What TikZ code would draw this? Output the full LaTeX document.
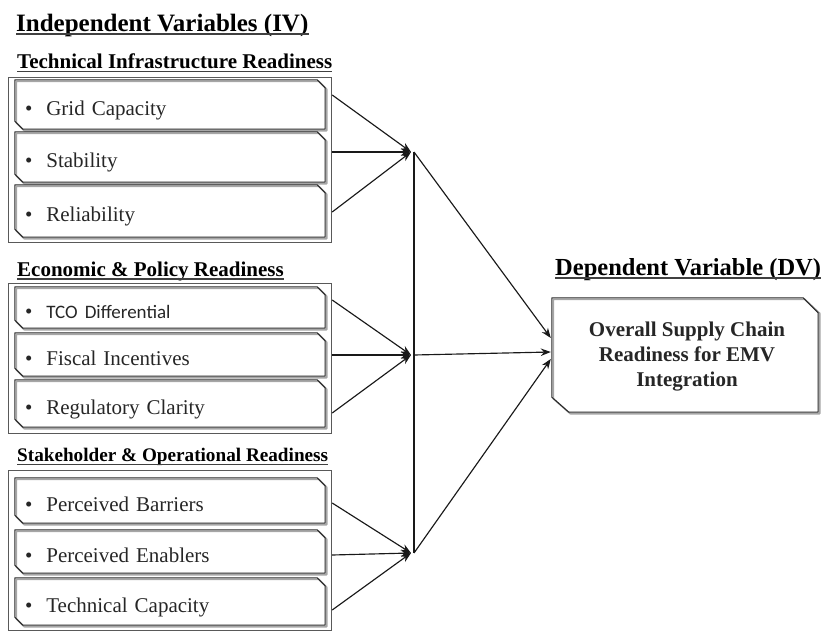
\documentclass[tikz,border=0pt]{standalone}
\usepackage{fontspec}
\setmainfont{Liberation Serif}
\newfontfamily\calibrifont{Carlito}
\usetikzlibrary{arrows.meta,calc}
\begin{document}
\begin{tikzpicture}[x=1pt,y=-1pt,
  titletext/.style={anchor=base west, inner sep=0pt, font=\fontsize{25}{28}\selectfont\bfseries},
  subhead/.style={anchor=base west, inner sep=0pt, font=\fontsize{21}{24}\selectfont\bfseries},
  uline/.style={draw=black!75, line width=1.4pt},
  groupbox/.style={draw=black!65, line width=1.2pt, inner sep=0pt, anchor=north west},
  itembox/.style={minimum width=310pt, text width=290pt, inner sep=0pt, align=left,
                  text height=21pt, text depth=0pt,
                  font=\fontsize{21}{24}\selectfont, text=black!85},
  conn/.style={line width=1.15pt, draw=black!90},
  tipped/.style={-{Stealth[length=10pt,width=7.5pt]}},
  shadowline/.style={draw=black!35, line width=1.6pt, line join=round},
  mainline/.style={draw=black!85, line width=1pt, line join=round},
]
\useasboundingbox (0,0) rectangle (822,632);
\clip (0,0) rectangle (822,632);

% headings
\node[titletext] (iv) at (16,31) {Independent Variables (IV)};
\draw[uline] ($(iv.base west)+(0pt,-3pt)$) -- ($(iv.base east)+(0pt,-3pt)$);
\node[subhead] (h1) at (17,68.5) {Technical Infrastructure Readiness};
\draw[uline] ($(h1.base west)+(0pt,-3pt)$) -- ($(h1.base east)+(0pt,-3pt)$);
\node[subhead] (h2) at (17,276) {Economic \& Policy Readiness};
\draw[uline] ($(h2.base west)+(0pt,-3pt)$) -- ($(h2.base east)+(0pt,-3pt)$);
\node[subhead, font=\fontsize{19.2}{22}\selectfont\bfseries] (h3) at (17,461.5) {Stakeholder \& Operational Readiness};
\draw[uline] ($(h3.base west)+(0pt,-3pt)$) -- ($(h3.base east)+(0pt,-3pt)$);
\node[titletext, font=\fontsize{24.5}{28}\selectfont\bfseries] (dvh) at (555,275) {Dependent Variable (DV)};
\draw[uline] ($(dvh.base west)+(0pt,-3pt)$) -- ($(dvh.base east)+(0pt,-3pt)$);

% group boxes
\node[groupbox, minimum width=323pt, minimum height=165pt] (o1) at (8,77) {};
\node[groupbox, minimum width=323pt, minimum height=150pt] (o2) at (8,283) {};
\node[groupbox, minimum width=323pt, minimum height=160pt] (o3) at (8,470) {};

% items
\node[itembox, minimum height=49pt] (a1) at (170,104.5) {\textbullet\hspace{14pt}Grid Capacity};
\node[itembox, minimum height=50pt] (a2) at (170,157) {\textbullet\hspace{14pt}Stability};
\node[itembox, minimum height=52pt] (a3) at (170,211) {\textbullet\hspace{14pt}Reliability};
\node[itembox, minimum height=41pt] (b1) at (170,307.5) {\textbullet\hspace{14pt}{\calibrifont\fontsize{19}{22}\selectfont TCO Differential}};
\node[itembox, minimum height=43pt] (b2) at (170,354.5) {\textbullet\hspace{14pt}Fiscal Incentives};
\node[itembox, minimum height=47pt] (b3) at (170,403.5) {\textbullet\hspace{14pt}Regulatory Clarity};
\node[itembox, minimum height=45pt] (c1) at (170,500.5) {\textbullet\hspace{14pt}Perceived Barriers};
\node[itembox, minimum height=43pt] (c2) at (170,551.5) {\textbullet\hspace{14pt}Perceived Enablers};
\node[itembox, minimum height=47pt] (c3) at (170,601.5) {\textbullet\hspace{14pt}Technical Capacity};

\foreach \n in {a1,a2,a3,b1,b2,b3,c1,c2,c3}{
  \draw[shadowline] ($(\n.north west)+(1.5pt,-1.5pt)$) -- ($(\n.north east)+(-6.5pt,-1.5pt)$)
     -- ($(\n.north east)+(1.5pt,-9.5pt)$) -- ($(\n.south east)+(1.5pt,-1.5pt)$)
     -- ($(\n.south west)+(9.5pt,-1.5pt)$) -- ($(\n.south west)+(1.5pt,6.5pt)$) -- cycle;
  \draw[mainline] (\n.north west) -- ($(\n.north east)+(-8pt,0pt)$)
     -- ($(\n.north east)+(0pt,-8pt)$) -- (\n.south east)
     -- ($(\n.south west)+(8pt,0pt)$) -- ($(\n.south west)+(0pt,8pt)$) -- cycle;
}

% dependent variable box
\node[minimum width=266pt, minimum height=114pt, inner sep=0pt] (dv) at (685,355) {};
\node[align=center, inner sep=0pt, font=\fontsize{21}{25}\selectfont\bfseries, text=black!85]
      (dvt) at (687,357) {Overall Supply Chain\\Readiness for EMV\\Integration};
\draw[shadowline] ($(dv.north west)+(1.5pt,-1.5pt)$) -- ($(dv.north east)+(-13.5pt,-1.5pt)$)
   -- ($(dv.north east)+(1.5pt,-15.5pt)$) -- ($(dv.south east)+(1.5pt,-1.5pt)$)
   -- ($(dv.south west)+(18.5pt,-1.5pt)$) -- ($(dv.south west)+(1.5pt,13.5pt)$) -- cycle;
\draw[mainline] (dv.north west) -- ($(dv.north east)+(-15pt,0pt)$)
   -- ($(dv.north east)+(0pt,-15pt)$) -- (dv.south east)
   -- ($(dv.south west)+(17pt,0pt)$) -- ($(dv.south west)+(0pt,15pt)$) -- cycle;

% junctions
\coordinate (j1) at (411,152);
\coordinate (j2) at (411,355);
\coordinate (j3) at (411,553);
\draw[conn] ([xshift=3pt]j1) -- ([xshift=3pt]j3);

\draw[conn,tipped] ($(a1.east -| o1.east)+(0pt,9.5pt)$) -- (j1);
\draw[conn,tipped] ($(a2.east -| o1.east)+(0pt,5pt)$) -- (j1);
\draw[conn,tipped] ($(a3.east -| o1.east)+(0pt,-1pt)$) -- (j1);
\draw[conn,tipped] ($(b1.east -| o2.east)+(0pt,7.5pt)$) -- (j2);
\draw[conn,tipped] ($(b2.east -| o2.east)+(0pt,-0.5pt)$) -- (j2);
\draw[conn,tipped] ($(b3.east -| o2.east)+(0pt,-9.5pt)$) -- (j2);
\draw[conn,tipped] ($(c1.east -| o3.east)+(0pt,-2.5pt)$) -- (j3);
\draw[conn,tipped] ($(c2.east -| o3.east)+(0pt,-3.5pt)$) -- (j3);
\draw[conn,tipped] ($(c3.east -| o3.east)+(0pt,-8.5pt)$) -- (j3);

\draw[conn,tipped] ([xshift=3pt]j1) -- ($(dv.west)+(-1pt,17pt)$);
\draw[conn,tipped] ([xshift=3pt]j2) -- ($(dv.west)+(-1pt,3pt)$);
\draw[conn,tipped] ([xshift=3pt]j3) -- ($(dv.west)+(-1pt,-4pt)$);
\end{tikzpicture}
\end{document}
